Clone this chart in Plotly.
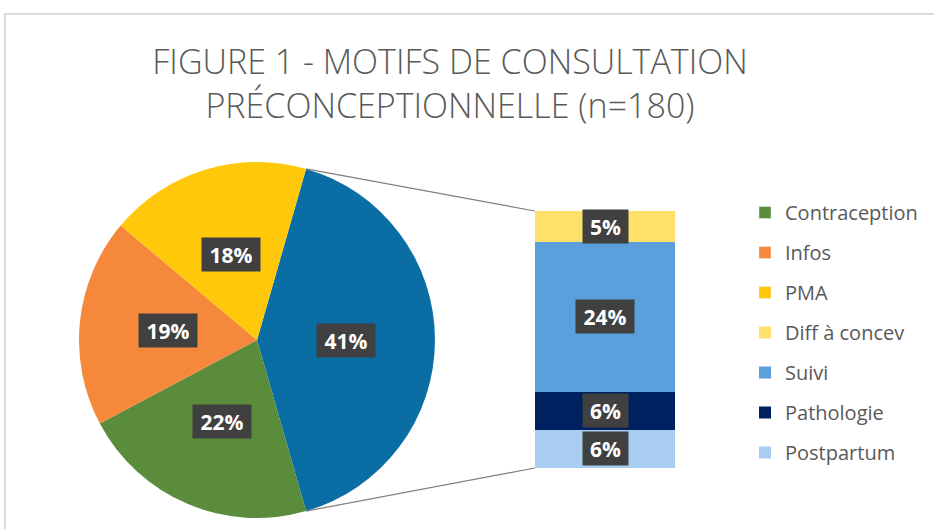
import math
import plotly.graph_objects as go

W, H = 934, 529

# ---- data ----
total_n = 180
pie_labels = ["Autres", "Contraception", "Infos", "PMA"]
pie_values = [74, 39, 34, 33]
pie_colors = ["#0A6EA5", "#5B8C3C", "#F5883A", "#FFC80A"]

bar_labels = ["Diff à concev", "Suivi", "Pathologie", "Postpartum"]   # top -> bottom
bar_values = [9, 43, 11, 11]
bar_colors = ["#FFE06B", "#5B9FDD", "#00215F", "#A9CDF1"]

title_lines = ["FIGURE 1 - MOTIFS DE CONSULTATION", "PRÉCONCEPTIONNELLE (n=180)"]

# ---- geometry (pixels) ----
pie_cx, pie_cy, pie_r = 257, 340, 178
bar_x0, bar_x1, bar_ytop, bar_ybot = 535, 675, 211, 468

other_total = sum(bar_values)
rotation = 90 - 0.5 * 360 * pie_values[0] / total_n

fig = go.Figure()

pie_dom_x = [(pie_cx - pie_r) / W, (pie_cx + pie_r) / W]
pie_dom_y = [1 - (pie_cy + pie_r) / H, 1 - (pie_cy - pie_r) / H]

fig.add_trace(go.Pie(
    labels=pie_labels, values=pie_values, sort=False, direction="clockwise",
    rotation=rotation, textinfo="none", showlegend=False,
    marker=dict(colors=pie_colors, line=dict(width=0)),
    domain=dict(x=pie_dom_x, y=pie_dom_y),
))

# legend-only entries for the pie categories
legend_names = pie_labels[1:] + bar_labels
rank = {n: i + 1 for i, n in enumerate(legend_names)}
for lab, col in zip(pie_labels[1:], pie_colors[1:]):
    fig.add_trace(go.Bar(x=[None], y=[None], name=lab, marker_color=col,
                         legendrank=rank[lab], legendgroup=lab))

# stacked bar, bottom first
for lab, val, col in reversed(list(zip(bar_labels, bar_values, bar_colors))):
    fig.add_trace(go.Bar(x=[0], y=[val], name=lab, width=1, marker=dict(color=col, line=dict(width=0)),
                         legendrank=rank[lab], legendgroup=lab))

ax_dom_x = [bar_x0 / W, bar_x1 / W]
ax_dom_y = [1 - bar_ybot / H, 1 - bar_ytop / H]

annotations = []
label_font = dict(family="Open Sans", size=21, color="white", weight="bold")


def box(text):
    return dict(text=text, bgcolor="#404040", borderpad=4, showarrow=False, font=label_font,
                height=25, width=13 * len(text) + 11, xanchor="center", yanchor="middle")


# pie labels
cum = 0
for lab, val in zip(pie_labels, pie_values):
    th = math.radians(rotation + 360 * (cum + val / 2) / total_n)
    cum += val
    px = pie_cx + 0.5 * pie_r * math.sin(th)
    py = pie_cy - 0.5 * pie_r * math.cos(th)
    annotations.append(dict(x=px / W, y=1 - py / H, xref="paper", yref="paper",
                            **box(f"{round(100 * val / total_n)}%")))

# bar labels
cum = 0
for lab, val in reversed(list(zip(bar_labels, bar_values))):
    annotations.append(dict(x=0, y=cum + val / 2, xref="x", yref="y",
                            **box(f"{round(100 * val / total_n)}%")))
    cum += val

# connector lines from the "other" slice to the bar
a1 = math.radians(rotation)
a2 = math.radians(rotation + 360 * pie_values[0] / total_n)
p1 = (pie_cx + pie_r * math.sin(a1), pie_cy - pie_r * math.cos(a1))
p2 = (pie_cx + pie_r * math.sin(a2), pie_cy - pie_r * math.cos(a2))
shapes = [
    dict(type="line", xref="paper", yref="paper", x0=p1[0] / W, y0=1 - p1[1] / H,
         x1=ax_dom_x[0], y1=ax_dom_y[1], line=dict(color="#7F7F7F", width=1.2)),
    dict(type="line", xref="paper", yref="paper", x0=p2[0] / W, y0=1 - p2[1] / H,
         x1=ax_dom_x[0], y1=ax_dom_y[0], line=dict(color="#7F7F7F", width=1.2)),
    dict(type="rect", xref="paper", yref="paper", x0=5 / W, y0=-0.05, x1=1.05, y1=1 - 14 / H,
         line=dict(color="#D0D0D0", width=1.5), layer="below"),
]

fig.update_layout(
    width=W, height=H, margin=dict(l=0, r=0, t=0, b=0),
    paper_bgcolor="white", plot_bgcolor="rgba(0,0,0,0)",
    title=dict(text="<br>".join(title_lines), x=450 / W, xanchor="center",
               y=1 - 74 / H, yanchor="middle", yref="container",
               font=dict(family="Open Sans", size=34, color="#595959", weight=300)),
    barmode="stack", bargap=0,
    xaxis=dict(domain=ax_dom_x, range=[-0.5, 0.5], visible=False, fixedrange=True),
    yaxis=dict(domain=ax_dom_y, range=[0, other_total], visible=False, fixedrange=True),
    legend=dict(x=745 / W, y=1 - 193 / H, xanchor="left", yanchor="top",
                font=dict(family="Open Sans", size=20, color="#595959"),
                traceorder="grouped", tracegroupgap=11, bgcolor="rgba(0,0,0,0)"),
    annotations=annotations, shapes=shapes,
)

fig.write_html("out.html", config={"displayModeBar": False},
               post_script="document.body.style.margin='0';")
